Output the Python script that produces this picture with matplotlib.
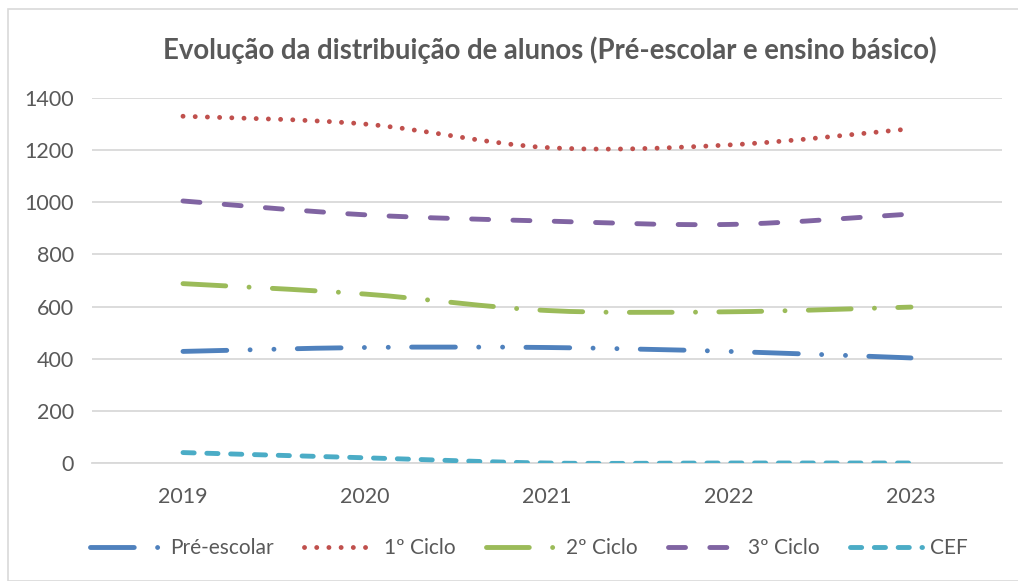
import matplotlib.pyplot as plt
import numpy as np
from matplotlib.lines import Line2D
from matplotlib.patches import PathPatch, Rectangle
from matplotlib.path import Path

plt.rcParams["font.family"] = ["Lato", "DejaVu Sans"]

YEARS = ["2019", "2020", "2021", "2022", "2023"]

PRE_ESCOLAR = [428, 443, 443, 428, 403]
CICLO_1 = [1330, 1300, 1210, 1220, 1282]
CICLO_2 = [688, 648, 585, 580, 598]
CICLO_3 = [1005, 952, 928, 915, 955]
CEF = [40, 20, 0, 0, 0]

SERIES = [
    ("Pré-escolar", PRE_ESCOLAR, "#4f81bd", (0, (9, 4.8, 0.01, 4.9, 0.01, 4.8))),
    ("1º Ciclo", CICLO_1, "#c0504d", (0, (0.01, 2.5))),
    ("2º Ciclo", CICLO_2, "#9bbb59", (0, (8.8, 4.8, 0.01, 4.8))),
    ("3º Ciclo", CICLO_3, "#8064a2", (0, (3.5, 5.0))),
    ("CEF", CEF, "#4bacc6", (0, (2.3, 2.6))),
]

TEXT_COLOR = "#595959"
GRID_COLOR = "#d9d9d9"
LW = 3.5


def smooth_path(xs, ys):
    # Excel-style smoothed line: cubic bezier segments through the points
    pts = np.column_stack([xs, ys]).astype(float)
    n = len(pts)
    verts = [pts[0]]
    codes = [Path.MOVETO]
    for i in range(n - 1):
        p0 = pts[max(i - 1, 0)]
        p1 = pts[i]
        p2 = pts[i + 1]
        p3 = pts[min(i + 2, n - 1)]
        c1 = p1 + (p2 - p0) / 6.0
        c2 = p2 - (p3 - p1) / 6.0
        verts += [c1, c2, p2]
        codes += [Path.CURVE4] * 3
    return Path(verts, codes)


fig = plt.figure(figsize=(10.18, 5.81), dpi=100)
fig.patches.append(Rectangle((8 / 1018, 0.5 / 581), 1.2, 1 - 9.5 / 581,
                             transform=fig.transFigure, fill=False,
                             edgecolor=GRID_COLOR, linewidth=1.2))

ax = fig.add_axes([92 / 1018, 1 - 463 / 581, 910 / 1018, 365 / 581])

x = np.arange(len(YEARS))
handles = []
for name, values, color, style in SERIES:
    patch = PathPatch(smooth_path(x, values), fill=False, edgecolor=color,
                      linewidth=LW, linestyle=style, capstyle="round",
                      joinstyle="round", zorder=3)
    ax.add_patch(patch)
    handles.append(Line2D([], [], color=color, linewidth=LW, linestyle=style,
                          dash_capstyle="round", solid_capstyle="round"))

ax.set_xlim(-0.5, len(YEARS) - 0.5)
ax.set_ylim(0, 1400)
ax.set_yticks(np.arange(0, 1401, 200))
ax.set_xticks(x)
ax.set_xticklabels(YEARS)
ax.grid(axis="y", color=GRID_COLOR, linewidth=1.3)
ax.set_axisbelow(True)
for side in ["top", "right", "left"]:
    ax.spines[side].set_visible(False)
ax.spines["bottom"].set_color(GRID_COLOR)
ax.spines["bottom"].set_linewidth(1.3)
ax.tick_params(length=0, labelsize=15.5, colors=TEXT_COLOR)
ax.tick_params(axis="y", pad=13)
ax.tick_params(axis="x", pad=17)

fig.text(550 / 1018, 1 - 50 / 581,
         "Evolução da distribuição de alunos (Pré-escolar e ensino básico)",
         ha="center", va="center", fontsize=19.8, fontweight="bold",
         color=TEXT_COLOR)

fig.legend(handles, [s[0] for s in SERIES], loc="center",
           bbox_to_anchor=(529 / 1018, 1 - 548 / 581), ncol=5, frameon=False,
           fontsize=15, labelcolor=TEXT_COLOR, handlelength=3.45,
           handletextpad=0.4, columnspacing=1.45)

fig.savefig("out.png", dpi=100)
